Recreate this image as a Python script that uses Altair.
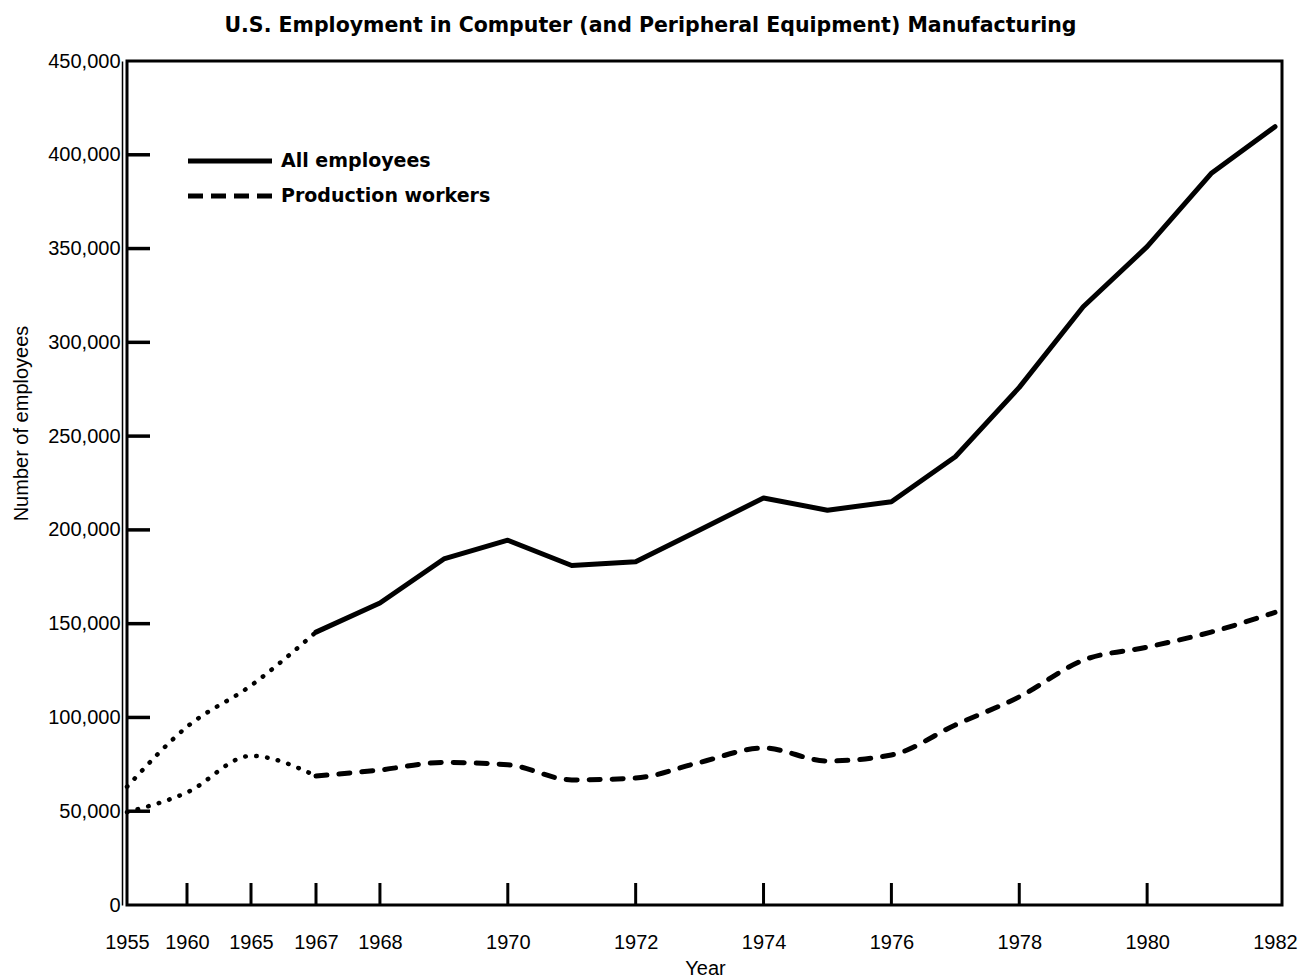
import altair as alt
import pandas as pd

# ---- data ----
years = [1955, 1960, 1965, 1967, 1968, 1969, 1970, 1971, 1972, 1973, 1974,
         1975, 1976, 1977, 1978, 1979, 1980, 1981, 1982]
all_employees = [63000, 95000, 117000, 145500, 161000, 184500, 194500, 181000,
                 183000, 200000, 217000, 210500, 215000, 239000, 276000,
                 319000, 351000, 390000, 415000]
production_workers = [49500, 60000, 79500, 68800, 72000, 76000, 74800, 66700,
                      67700, 76000, 83700, 76800, 80000, 96000, 111000,
                      130500, 137500, 145500, 156000]
series_names = ["All employees", "Production workers"]
break_year = 1967  # dotted (estimated) before this year

x_label_years = [1955, 1960, 1965, 1967, 1968, 1970, 1972, 1974, 1976, 1978, 1980, 1982]
x_tick_years = [1960, 1965, 1967, 1968, 1970, 1972, 1974, 1976, 1978, 1980]
y_label_values = [0, 50000, 100000, 150000, 200000, 250000, 300000, 350000, 400000, 450000]
y_tick_values = [50000, 100000, 150000, 200000, 250000, 300000, 350000, 400000]

# broken (piecewise) year axis
x_scale_domain = [1955, 1960, 1965, 1967, 1982]
x_scale_range = [0, 60, 124, 189, 1148]

rows = []
for name, vals in zip(series_names, [all_employees, production_workers]):
    for y, v in zip(years, vals):
        if y <= break_year:
            rows.append({"series": name, "segment": "early", "year": y, "value": v})
        if y >= break_year:
            rows.append({"series": name, "segment": "main", "year": y, "value": v})
df = pd.DataFrame(rows)

FONT = "Liberation Sans"
BOLD = "DejaVu Sans"
xs = alt.Scale(domain=x_scale_domain, range=x_scale_range, zero=False, nice=False)
ys = alt.Scale(domain=[0, 450000], nice=False, zero=True)

x_axis = alt.Axis(values=x_label_years, format="d", ticks=False, domain=False, grid=False,
                  labelFontSize=20, labelFont=FONT, labelColor="black", labelPadding=27,
                  labelFlush=False, labelOverlap=False,
                  title="Year", titleFont=FONT, titleFontSize=20, titleFontWeight="normal",
                  titleColor="black", titleX=578, titleY=63, titleBaseline="middle",
                  titleAlign="center")
y_axis = alt.Axis(values=y_label_values, labelExpr="format(datum.value, ',.0f')",
                  ticks=False, domain=True,
                  domainWidth=1.5, domainColor="black", offset=5, grid=False,
                  labelFontSize=20, labelFont=FONT, labelColor="black", labelPadding=2,
                  title="Number of employees", titleFont=FONT, titleFontSize=20,
                  titleFontWeight="normal", titleColor="black", titleAngle=-90,
                  titleX=-101, titleY=362, titleAlign="center", titleBaseline="middle")

X = alt.X("year:Q", scale=xs, axis=x_axis)
Y = alt.Y("value:Q", scale=ys, axis=y_axis)

base = alt.Chart(df)

all_main = base.transform_filter(
    (alt.datum.series == series_names[0]) & (alt.datum.segment == "main")
).mark_line(color="black", strokeWidth=5, strokeCap="round", strokeJoin="round").encode(
    x=X, y=Y,
)
prod_main = base.transform_filter(
    (alt.datum.series == series_names[1]) & (alt.datum.segment == "main")
).mark_line(color="black", strokeWidth=5, strokeCap="round", strokeDash=[11, 12],
            interpolate="monotone").encode(
    x=X, y=Y,
)
early = base.transform_filter(alt.datum.segment == "early").mark_line(
    color="black", strokeWidth=4.5, strokeCap="round", strokeDash=[0.5, 10.5],
    interpolate="monotone"
).encode(
    x=X, y=Y,
    detail="series:N",
)

xticks = alt.Chart(pd.DataFrame({"year": x_tick_years})).mark_rule(
    color="black", strokeWidth=3
).encode(
    x=X,
    y=alt.value(844), y2=alt.value(822),
)
yticks = alt.Chart(pd.DataFrame({"value": y_tick_values})).mark_rule(
    color="black", strokeWidth=3.5
).encode(
    y=Y,
    x=alt.value(0), x2=alt.value(23),
)

legend_layers = []
for i, (name, dash) in enumerate(zip(series_names, [[1, 0], [15, 8]])):
    ldf = pd.DataFrame({"label": [name]})
    ypos = 100 + 35 * i
    legend_layers.append(
        alt.Chart(ldf).mark_rule(color="black", strokeWidth=5, strokeDash=dash).encode(
            x=alt.value(61), x2=alt.value(145), y=alt.value(ypos)
        )
    )
    legend_layers.append(
        alt.Chart(ldf).mark_text(align="left", baseline="middle", font=BOLD,
                                 fontSize=19, fontWeight="bold", color="black").encode(
            x=alt.value(154), y=alt.value(ypos), text="label:N"
        )
    )

chart = alt.layer(all_main, prod_main, early, xticks, yticks, *legend_layers).properties(
    width=1155,
    height=844,
    autosize=alt.AutoSizeParams(type="none"),
    padding={"left": 119, "top": 53, "right": 16, "bottom": 78},
    background="white",
    title=alt.TitleParams(
        "U.S. Employment in Computer (and Peripheral Equipment) Manufacturing",
        font=BOLD, fontSize=20.5, fontWeight="bold", color="black",
        anchor="middle", frame="group", dx=-54, offset=15,
    ),
).configure_view(stroke="black", strokeWidth=3)

chart.save("out.html", embed_options={"renderer": "svg", "actions": False})
